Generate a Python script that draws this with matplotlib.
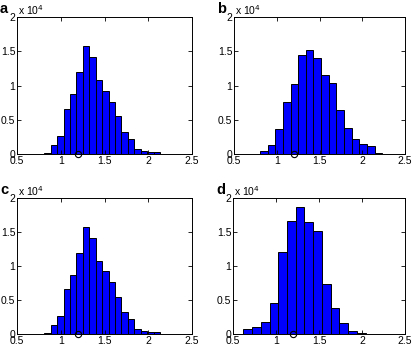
import numpy as np
import matplotlib
matplotlib.use("Agg")
from matplotlib import pyplot as plt

plt.rcParams['font.family'] = ['Liberation Sans', 'DejaVu Sans']

# histogram counts in units of 10^4, 20 bins (d: 15 bins)
counts_a = [0.005, 0.02, 0.13, 0.26, 0.66, 0.87, 1.19, 1.58, 1.41, 1.08,
            0.92, 0.76, 0.55, 0.32, 0.22, 0.07, 0.045, 0.03, 0.025, 0.006]
counts_b = [0.005, 0.04, 0.13, 0.36, 0.76, 1.02, 1.44, 1.52, 1.40, 1.15,
            1.03, 0.64, 0.38, 0.22, 0.14, 0.12, 0.02, 0.005, 0.0, 0.003]
counts_c = counts_a
counts_d = [0.07, 0.10, 0.17, 0.45, 1.21, 1.66, 1.87, 1.65, 1.52, 0.73,
            0.38, 0.16, 0.04, 0.02, 0.005]

# first bin edge and bin width for each panel
bins_a = (0.738, 0.0735)
bins_b = (0.715, 0.0893)
bins_c = bins_a
bins_d = (0.62, 0.1015)

marker_x = 1.2
labels = ['a', 'b', 'c', 'd']
xticks = [0.5, 1, 1.5, 2, 2.5]
xticklabels = ['0.5', '1', '1.5', '2', '2.5']
yticks = [0, 0.5, 1, 1.5, 2]
yticklabels = ['0', '0.5', '1', '1.5', '2']

W, H = 415, 347
fig = plt.figure(figsize=(W / 100, H / 100), dpi=100)

# axes boxes in pixels: left, right, top, bottom
boxes = [(17, 192, 17, 154), (234, 405, 17, 154),
         (17, 192, 198, 334), (233, 405, 198, 334)]
data = [(counts_a, bins_a), (counts_b, bins_b),
        (counts_c, bins_c), (counts_d, bins_d)]

for (l, r, t, b), (cnt, (lo, w)), lab in zip(boxes, data, labels):
    ax = fig.add_axes([l / W, (H - b) / H, (r - l) / W, (b - t) / H])
    left = lo + w * np.arange(len(cnt))
    ax.bar(left, cnt, width=w, align='edge', color='#0000ff',
           edgecolor='black', linewidth=0.7)
    ax.plot([marker_x], [0], 'o', mfc='none', mec='black', ms=4.5,
            mew=0.8, clip_on=False, zorder=5)
    ax.set_xlim(0.5, 2.5)
    ax.set_ylim(0, 2)
    ax.set_xticks(xticks)
    ax.set_xticklabels(xticklabels)
    ax.set_yticks(yticks)
    ax.set_yticklabels(yticklabels)
    ax.tick_params(direction='in', length=3, width=0.6, labelsize=7.5,
                   top=True, right=True, pad=1.2, colors='black')
    for s in ax.spines.values():
        s.set_linewidth(0.7)
    fig.text((l - 17) / W, 1 - (t - 8) / H, lab, fontsize=10.5,
             fontweight='bold', va='center', ha='left')
    fig.text((l + 1) / W, 1 - (t - 7) / H, r'x 10$^4$', fontsize=7.5,
             va='center', ha='left')

fig.savefig('out.png', dpi=100)
